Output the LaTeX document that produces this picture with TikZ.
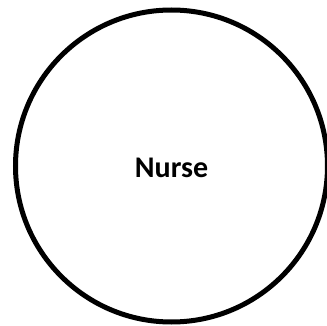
\documentclass[tikz,border=0pt]{standalone}
\usepackage{fontspec}
\setmainfont{Carlito}
\begin{document}
\begin{tikzpicture}[x=1pt,y=1pt,
  ring/.style={draw=black,line width=5pt,circle},
  lbl/.style={font=\fontsize{30}{36}\selectfont\bfseries,inner sep=0pt}]
\useasboundingbox (0,0) rectangle (327,325);
\begin{scope}
\clip (0,0) rectangle (327,325);
\draw[line width=5pt] (171.5,159) circle[radius=156];
\end{scope}
\node[lbl] (nurse) at (171.5,157) {Nurse};
\end{tikzpicture}
\end{document}
